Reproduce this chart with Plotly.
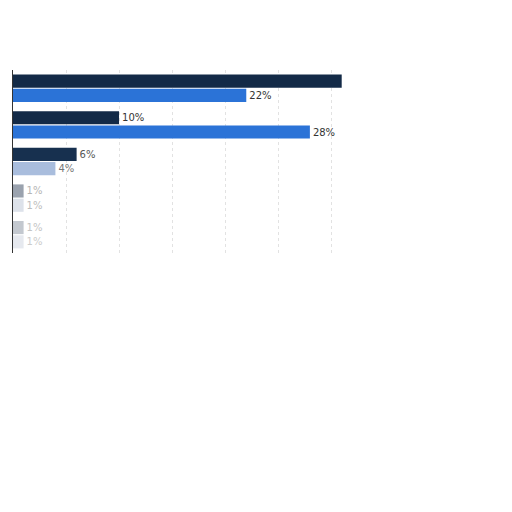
import plotly.graph_objects as go

# categories (labels are hidden in the reference)
categories = ["Group 1", "Group 2", "Group 3", "Group 4", "Group 5"]
series_a = [31, 10, 6, 1, 1]
series_b = [22, 28, 4, 1, 1]
labels_a = ["", "10%", "6%", "1%", "1%"]
labels_b = ["22%", "28%", "4%", "1%", "1%"]

# colours per bar, lower rows are washed out in the picture
colors_a = ["#132a47", "#132a47", "#17304f", "#9aa2ae", "#c3c8cf"]
colors_b = ["#2b73d7", "#2b73d7", "#a9bddd", "#dde2ea", "#e6e9ef"]
text_a = ["#333333", "#333333", "#555555", "#b5b5b5", "#c5c5c5"]
text_b = ["#333333", "#333333", "#777777", "#bdbdbd", "#cccccc"]

fig = go.Figure()

fig.add_trace(go.Bar(
    y=categories, x=series_a, orientation="h",
    marker=dict(color=colors_a, line=dict(width=0)),
    text=labels_a, textposition="outside", cliponaxis=False,
    textfont=dict(family="DejaVu Sans", size=10, color=text_a),
    name="A"
))

fig.add_trace(go.Bar(
    y=categories, x=series_b, orientation="h",
    marker=dict(color=colors_b, line=dict(width=0)),
    text=labels_b, textposition="outside", cliponaxis=False,
    textfont=dict(family="DejaVu Sans", size=10, color=text_b),
    name="B"
))

fig.update_layout(
    width=512, height=512,
    margin=dict(l=5, r=173, t=62, b=267, autoexpand=False),
    barmode="group",
    bargap=0.22,
    bargroupgap=0.08,
    showlegend=False,
    plot_bgcolor="white",
    paper_bgcolor="white",
    font=dict(family="DejaVu Sans"),
    xaxis=dict(
        range=[0, 31.5], dtick=5,
        showgrid=True, gridcolor="#e2e2e2", griddash="dot",
        showticklabels=False, zeroline=False, automargin=False
    ),
    yaxis=dict(
        autorange="reversed", showticklabels=False, automargin=False,
        showline=True, linecolor="#333333", linewidth=1
    ),
    uniformtext=dict(minsize=8)
)

fig.write_html("out.html")
